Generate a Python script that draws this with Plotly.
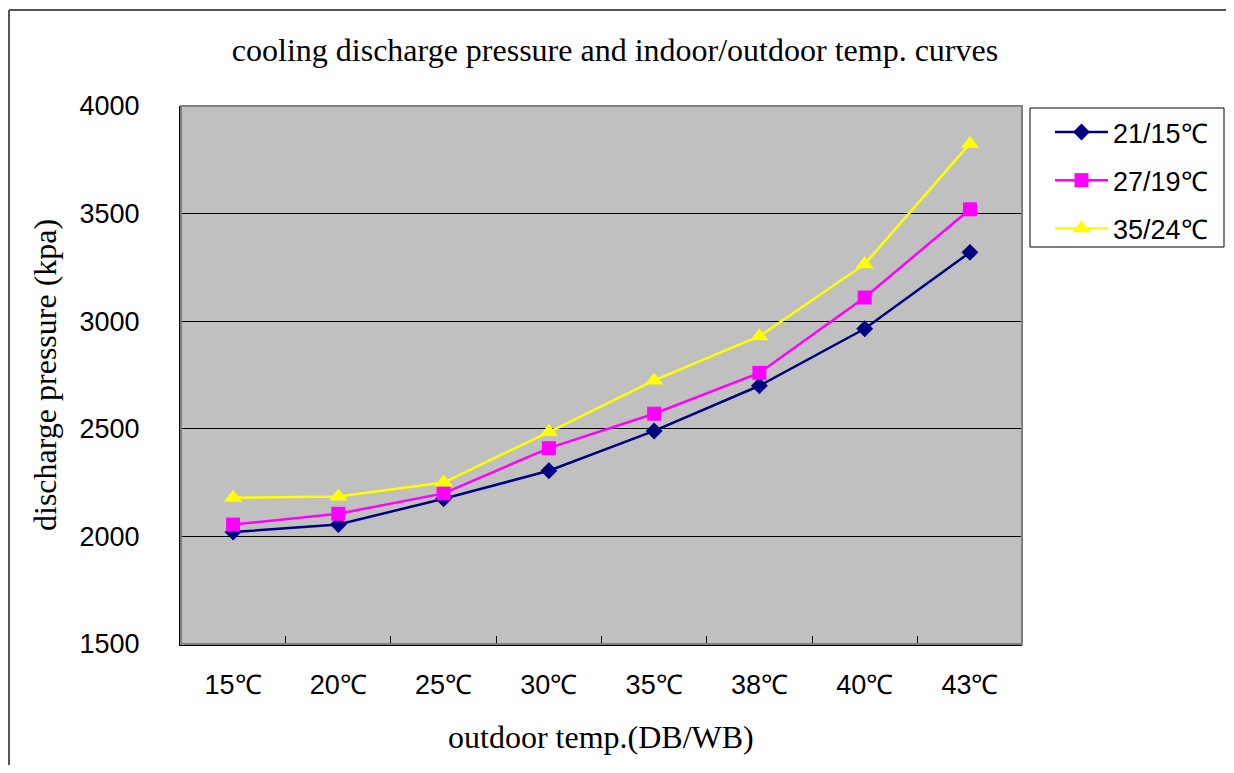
import plotly.graph_objects as go

categories = ["15℃", "20℃", "25℃", "30℃", "35℃", "38℃", "40℃", "43℃"]
series_names = ["21/15℃", "27/19℃", "35/24℃"]
s_21_15 = [2020, 2055, 2175, 2305, 2490, 2700, 2965, 3320]
s_27_19 = [2055, 2105, 2200, 2410, 2570, 2760, 3110, 3520]
s_35_24 = [2180, 2185, 2250, 2485, 2725, 2930, 3265, 3825]

colors = ["#000080", "#FF00FF", "#FFFF00"]
symbols = ["diamond", "square", "triangle-up"]
msizes = [13, 14, 16]

fig = go.Figure()
for name, vals, c, s, ms in zip(series_names, [s_21_15, s_27_19, s_35_24], colors, symbols, msizes):
    fig.add_trace(go.Scatter(
        x=categories, y=vals, name=name, mode="lines+markers",
        line=dict(color=c, width=2.5),
        marker=dict(symbol=s, size=ms, color=c),
        legendgroup=name,
    ))

serif = "Liberation Serif, Times New Roman, serif"
sans = "Liberation Sans, Arial, sans-serif"

# page offset of 8px (body margin); keep the figure inside the window
OX, OY = 8, 8
W, H = 1234 - 2 * OX, 773 - 2 * OY
PL, PR, PT, PB = 181 - OX, 1022 - OX, 106 - OY, 644 - OY
pw, ph = PR - PL, PB - PT

def px(x):
    return (x - OX - PL) / pw

def py(y):
    return (PB - (y - OY)) / ph

fig.update_layout(
    width=W, height=H,
    margin=dict(l=PL, r=W - PR, t=PT, b=H - PB),
    paper_bgcolor="white",
    plot_bgcolor="#C0C0C0",
    title=dict(text="cooling discharge pressure and indoor/outdoor temp. curves",
               font=dict(family=serif, size=32, color="black"),
               x=px(615), xref="paper", xanchor="center",
               y=1 - (50 - OY) / H, yref="container", yanchor="middle"),
    xaxis=dict(type="category", tickson="boundaries", ticks="inside", ticklen=8,
               tickcolor="black", showgrid=False, showline=True, linecolor="black",
               linewidth=2, mirror=False, zeroline=False,
               tickfont=dict(family=sans, size=27, color="black"),
               ticklabelstandoff=16),
    yaxis=dict(range=[1500, 4000], dtick=500, showgrid=True, gridcolor="black",
               gridwidth=1, showline=True, linecolor="black", linewidth=2,
               ticks="", zeroline=False,
               tickfont=dict(family=sans, size=27, color="black"),
               ticklabelstandoff=34),
    legend=dict(x=px(1050), xanchor="left", y=py(108), yanchor="top",
                borderwidth=0, bgcolor="rgba(0,0,0,0)",
                font=dict(family=sans, size=27, color="black"),
                tracegroupgap=10, itemwidth=53,
                traceorder="grouped"),
    showlegend=True,
    annotations=[
        dict(text="discharge pressure (kpa)", xref="paper", yref="paper",
             x=px(45), y=py(375), xanchor="center", yanchor="middle",
             textangle=-90, showarrow=False,
             font=dict(family=serif, size=32, color="black")),
        dict(text="outdoor temp.(DB/WB)", xref="paper", yref="paper",
             x=px(601), y=py(737), xanchor="center", yanchor="middle",
             showarrow=False, font=dict(family=serif, size=32, color="black")),
    ],
    shapes=[
        dict(type="rect", xref="paper", yref="paper", x0=0, x1=1, y0=0, y1=1,
             line=dict(color="#808080", width=2), layer="above"),
        dict(type="rect", xref="paper", yref="paper",
             x0=px(1030), x1=px(1224), y0=py(108), y1=py(247),
             line=dict(color="black", width=1), fillcolor="white", layer="below"),
        dict(type="line", xref="paper", yref="paper",
             x0=px(9), x1=px(9), y0=py(10), y1=py(790),
             line=dict(color="#555555", width=2)),
        dict(type="line", xref="paper", yref="paper",
             x0=px(9), x1=px(1250), y0=py(10), y1=py(10),
             line=dict(color="#555555", width=2)),
    ],
)

fig.write_html("out.html")
